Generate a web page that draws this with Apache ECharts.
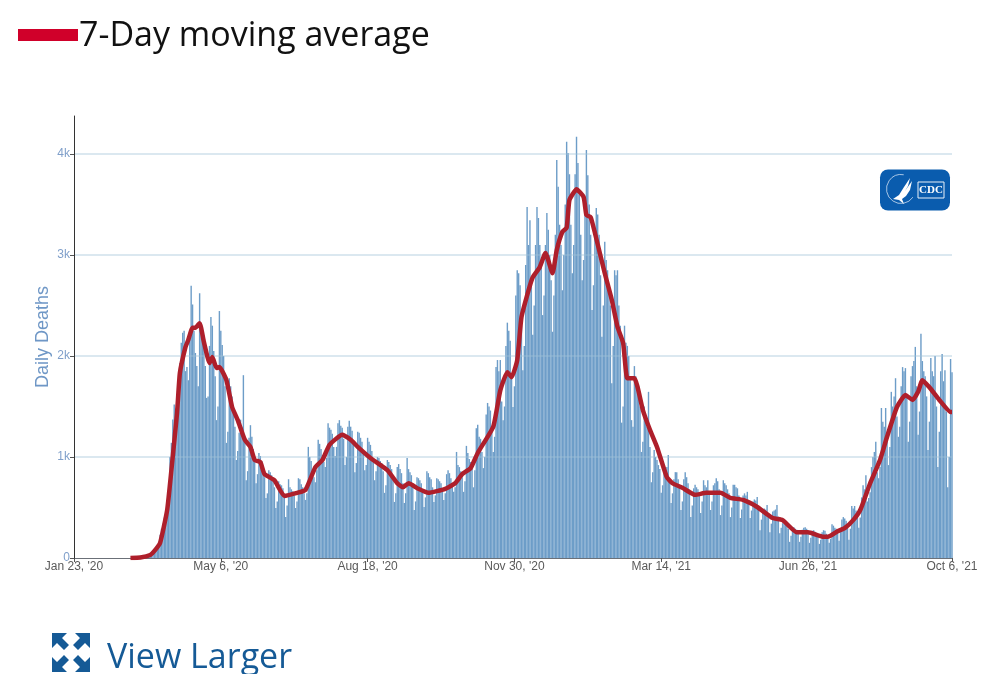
<!DOCTYPE html>
<html>
<head>
<meta charset="utf-8">
<title>Daily Deaths</title>
<script src="https://cdn.jsdelivr.net/npm/echarts@6/dist/echarts.min.js"></script>
<style>
  html, body { margin: 0; padding: 0; background: #fff; }
  #chart { width: 996px; height: 674px; }
</style>
</head>
<body>
<div id="chart"></div>
<script>
const firstDay = Date.UTC(2020, 0, 23)
const xTickLabels = ["Jan 23, '20", "May 6, '20", "Aug 18, '20", "Nov 30, '20", "Mar 14, '21", "Jun 26, '21", "Oct 6, '21"]
const yTickValues = [0, 1000, 2000, 3000, 4000]
const yTickLabels = ['0', '1k', '2k', '3k', '4k']

// daily deaths, first row Thu-Sat, then one row per week Sun-Sat, last row Sun-Wed
const dailyDeaths = [
  0, 0, 0,
  0, 0, 0, 0, 0, 0, 0,
  0, 0, 0, 0, 0, 0, 0,
  0, 0, 0, 0, 0, 0, 0,
  0, 0, 0, 0, 0, 0, 0,
  0, 0, 0, 0, 0, 0, 0,
  0, 1, 1, 2, 3, 2, 1,
  5, 4, 9, 12, 10, 15, 22,
  30, 33, 47, 58, 72, 90, 110,
  120, 160, 230, 290, 340, 400, 460,
  520, 600, 1000, 1140, 1370, 1520, 1480,
  1300, 1450, 1930, 2130, 2230, 2250, 1850,
  1890, 1760, 2240, 2695, 2510, 2250, 2030,
  1900, 1700, 2620, 2300, 2200, 2100, 1900,
  1585, 1600, 2100, 2385, 2300, 2050, 1800,
  1365, 1500, 2445, 2250, 2110, 2000, 1700,
  1140, 1250, 1780, 1700, 1600, 1450, 1300,
  970, 1060, 1240, 1370, 1300, 1810, 1180,
  770, 860, 1190, 1315, 1200, 1080, 950,
  740, 830, 1040, 1010, 960, 900, 800,
  595, 640, 870, 850, 820, 790, 700,
  495, 560, 760, 730, 720, 690, 600,
  405, 520, 780, 700, 680, 660, 620,
  495, 560, 790, 780, 730, 700, 640,
  575, 640, 1100, 1000, 960, 880, 800,
  750, 870, 1170, 1130, 1080, 1020, 950,
  900, 990, 1335, 1290, 1270, 1230, 1100,
  1010, 1100, 1335, 1365, 1310, 1290, 1180,
  920, 1000, 1300, 1360, 1300, 1260, 1150,
  850, 940, 1250, 1240, 1190, 1150, 1030,
  870, 920, 1190, 1150, 1120, 1060, 980,
  770, 860, 1000, 990, 960, 940, 860,
  645, 720, 970, 950, 920, 880, 800,
  555, 640, 900, 930, 880, 840, 740,
  545, 640, 990, 880, 850, 820, 720,
  475, 560, 800, 790, 770, 740, 660,
  505, 600, 860, 840, 800, 780, 700,
  555, 620, 790, 780, 760, 740, 680,
  575, 640, 830, 870, 840, 790, 720,
  655, 700, 1050, 920, 900, 860, 800,
  655, 760, 1110, 1040, 980, 950, 880,
  700, 870, 1285, 1320, 1200, 1180, 1050,
  890, 1000, 1420, 1535, 1500, 1460, 1310,
  1050, 1200, 1890, 1960, 1850, 1960, 1550,
  1365, 1500, 2100, 2330, 2250, 2150, 1800,
  1495, 1700, 2600, 2850, 2820, 2700, 2300,
  1860, 2100, 2900, 3475, 3100, 3345, 2700,
  2210, 2500, 3100, 3475, 3365, 3100, 2900,
  2405, 2600, 3100, 3415, 3250, 3000, 2750,
  2240, 2600, 3200, 3940, 3675, 3300, 3100,
  2650, 3000, 3500, 4120, 4010, 3800, 3300,
  2820, 3100, 3800, 4170, 3910, 3600, 3200,
  2750, 2950, 3500, 4040, 3790, 3500, 3200,
  2455, 2700, 3200, 3465, 3400, 3200, 2800,
  2190, 2500, 3130, 2950, 2850, 2700, 2500,
  1730, 2100, 2850, 2800, 2850, 2500, 2300,
  1340, 1500, 2300, 2130, 2100, 2000, 1800,
  1365, 1300, 1900, 1800, 1750, 1700, 1500,
  1050, 1150, 1500, 1400, 1300, 1645, 1100,
  750, 850, 1070, 1000, 970, 920, 880,
  645, 720, 850, 880, 900, 1020, 780,
  545, 640, 780, 850, 850, 780, 700,
  475, 560, 780, 850, 800, 740, 680,
  405, 520, 690, 725, 700, 680, 620,
  445, 560, 770, 720, 700, 770, 640,
  475, 560, 720, 740, 790, 760, 680,
  425, 520, 770, 740, 720, 680, 640,
  405, 500, 725, 725, 700, 690, 620,
  395, 480, 620, 640, 620, 655, 540,
  395, 470, 560, 580, 570, 605, 500,
  275, 380, 470, 490, 480, 525, 440,
  255, 340, 460, 470, 480, 525, 410,
  245, 300, 345, 340, 330, 320, 290,
  160, 220, 300, 305, 290, 280, 260,
  160, 210, 280, 300, 305, 290, 250,
  150, 200, 270, 275, 260, 250, 230,
  140, 180, 255, 275, 270, 240, 220,
  150, 190, 335, 320, 300, 290, 270,
  170, 260, 380, 405, 390, 370, 330,
  180, 290, 515, 490, 515, 470, 400,
  300, 400, 600, 720, 680, 820, 560,
  595, 650, 900, 1000, 1050, 1150, 850,
  790, 900, 1485, 1350, 1300, 1485, 1250,
  920, 1100, 1645, 1500, 1600, 1780, 1400,
  1200, 1300, 1700, 1890, 1850, 1880, 1600,
  1150, 1350, 1800, 1900, 1950, 2090, 1700,
  1220, 1450, 2220, 1950, 1850, 1800, 1600,
  1070, 1350, 1980, 1850, 1800, 2000, 1500,
  900, 1250, 1850, 2020, 1750, 1860, 1450,
  700, 1000, 1970, 1840
]

// moving average: day number since Jan 23 and value
const avgDays = [40, 47, 54, 57, 61, 66, 69, 73, 75, 79, 81, 84, 86, 89, 92, 96, 98, 101, 103, 108,
  112, 116, 121, 125, 128, 132, 135, 142, 149, 158, 164, 171, 176, 181, 190, 196, 201, 210, 222, 229,
  233, 237, 244, 251, 263, 270, 275, 281, 286, 297, 302, 307, 310, 314, 317, 322, 325, 330, 334, 339,
  342, 346, 349, 351, 356, 361, 363, 366, 369, 376, 381, 385, 389, 392, 397, 403, 408, 413, 420, 424,
  431, 440, 448, 458, 465, 474, 484, 495, 502, 512, 520, 531, 534, 541, 546, 552, 557, 564, 571, 576,
  583, 589, 594, 598, 601, 606, 613, 621, 622]
const avgValues = [0, 5, 30, 70, 150, 475, 870, 1435, 1830, 2090, 2160, 2280, 2280, 2325, 2140, 1930, 1990, 1880, 1890, 1760,
  1495, 1365, 1170, 1100, 970, 950, 830, 770, 615, 645, 675, 900, 970, 1120, 1220, 1170, 1100, 990, 870, 740,
  700, 740, 685, 645, 685, 740, 830, 890, 1040, 1300, 1660, 1840, 1790, 1960, 2385, 2650, 2780, 2880, 3020, 2820,
  3050, 3230, 3270, 3545, 3650, 3575, 3395, 3375, 3220, 2820, 2555, 2290, 2130, 1780, 1780, 1465, 1270, 1100, 800, 740,
  695, 625, 645, 645, 595, 575, 505, 395, 375, 255, 255, 210, 210, 265, 295, 375, 475, 740, 970, 1200,
  1495, 1615, 1565, 1645, 1760, 1690, 1565, 1445, 1445]

const monthNames = ['Jan', 'Feb', 'Mar', 'Apr', 'May', 'Jun', 'Jul', 'Aug', 'Sep', 'Oct', 'Nov', 'Dec']
const categories = dailyDeaths.map((v, i) => {
  const d = new Date(firstDay + i * 86400000)
  return monthNames[d.getUTCMonth()] + ' ' + d.getUTCDate() + ", '" + String(d.getUTCFullYear()).slice(2)
})
const isTickDay = (i, name) => xTickLabels.includes(name)

const iconColor = '#155a96'
const chart = echarts.init(document.getElementById('chart'))
chart.setOption({
  animation: false,
  backgroundColor: '#fff',
  grid: { left: 74, right: 44, top: 116, bottom: 116 },
  xAxis: {
    type: 'category',
    data: categories,
    boundaryGap: false,
    axisLine: { lineStyle: { color: '#6b7078', width: 1 } },
    axisTick: { interval: isTickDay, length: 4, lineStyle: { color: '#555' } },
    axisLabel: {
      interval: isTickDay,
      hideOverlap: false,
      color: '#5a5a5a',
      fontFamily: 'Liberation Sans',
      fontSize: 12,
      margin: 3
    },
    splitLine: { show: false }
  },
  yAxis: {
    type: 'value',
    z: 3,
    min: 0,
    max: 4376,
    interval: 1000,
    name: 'Daily Deaths',
    nameLocation: 'middle',
    nameGap: 22,
    nameMoveOverlap: false,
    nameTextStyle: { color: '#6f97c6', fontFamily: 'Liberation Sans', fontSize: 18 },
    axisLine: { show: true, lineStyle: { color: '#333', width: 1 } },
    axisTick: { show: true, length: 4, lineStyle: { color: '#555' } },
    axisLabel: {
      showMaxLabel: false,
      color: '#7f9fca',
      fontFamily: 'Liberation Sans',
      fontSize: 12,
      margin: 4,
      formatter: v => {
        const k = yTickValues.indexOf(v)
        return k < 0 ? '' : yTickLabels[k]
      }
    },
    splitLine: { show: true, showMaxLine: false, showMinLine: false, lineStyle: { color: 'rgba(160,195,215,.5)', width: 1.5 } }
  },
  series: [
    {
      name: 'Daily Deaths',
      type: 'bar',
      data: dailyDeaths,
      barWidth: '100%',
      itemStyle: { color: '#6d9dc8' },
      z: 2
    },
    {
      name: '7-Day moving average',
      type: 'line',
      data: avgDays.map((d, i) => [d, avgValues[i]]),
      showSymbol: false,
      smooth: 0.15,
      lineStyle: { color: '#ae1f2b', width: 4.5, join: 'round' },
      z: 4
    }
  ],
  graphic: [
    { type: 'rect', shape: { x: 18, y: 29, width: 60, height: 12 }, style: { fill: '#d0002a' } },
    {
      type: 'text', x: 79, y: 36,
      style: { text: '7-Day moving average', fill: '#111', fontFamily: 'Open Sans', fontSize: 34, verticalAlign: 'middle' }
    },
    {
      type: 'text', x: 107, y: 658,
      style: { text: 'View Larger', fill: iconColor, fontFamily: 'Open Sans', fontSize: 34, verticalAlign: 'middle' }
    },
    // expand icon, one arrow per corner
    { type: 'polygon', shape: { points: [[52, 633], [67, 633], [62, 638], [69, 645], [64, 650], [57, 643], [52, 648]] }, style: { fill: iconColor } },
    { type: 'polygon', shape: { points: [[90, 633], [75, 633], [80, 638], [73, 645], [78, 650], [85, 643], [90, 648]] }, style: { fill: iconColor } },
    { type: 'polygon', shape: { points: [[52, 672], [67, 672], [62, 667], [69, 660], [64, 655], [57, 662], [52, 657]] }, style: { fill: iconColor } },
    { type: 'polygon', shape: { points: [[90, 672], [75, 672], [80, 667], [73, 660], [78, 655], [85, 662], [90, 657]] }, style: { fill: iconColor } },
    // CDC logo
    { type: 'rect', z: 6, shape: { x: 880, y: 169.5, width: 70, height: 41, r: 8 }, style: { fill: '#0a5cae' } },
    {
      type: 'arc', z: 7,
      shape: { cx: 901, cy: 189, r: 14.5, startAngle: 0.6, endAngle: 4.9 },
      style: { stroke: '#cfe0f2', lineWidth: 0.8, fill: null }
    },
    {
      type: 'polygon', z: 7,
      shape: { points: [[893, 199], [899, 195], [904, 187], [910, 178], [908, 186], [905, 191], [912, 181], [910, 190], [906, 196], [902, 199], [904, 204], [899, 200]] },
      style: { fill: '#fff' }
    },
    { type: 'rect', z: 7, shape: { x: 918, y: 182, width: 26, height: 16 }, style: { fill: 'none', stroke: '#e8f0f8', lineWidth: 1 } },
    {
      type: 'text', z: 7, x: 931, y: 190,
      style: { text: 'CDC', fill: '#fff', fontFamily: 'Liberation Serif', fontWeight: 'bold', fontSize: 11, align: 'center', verticalAlign: 'middle' }
    }
  ]
})
</script>
</body>
</html>
